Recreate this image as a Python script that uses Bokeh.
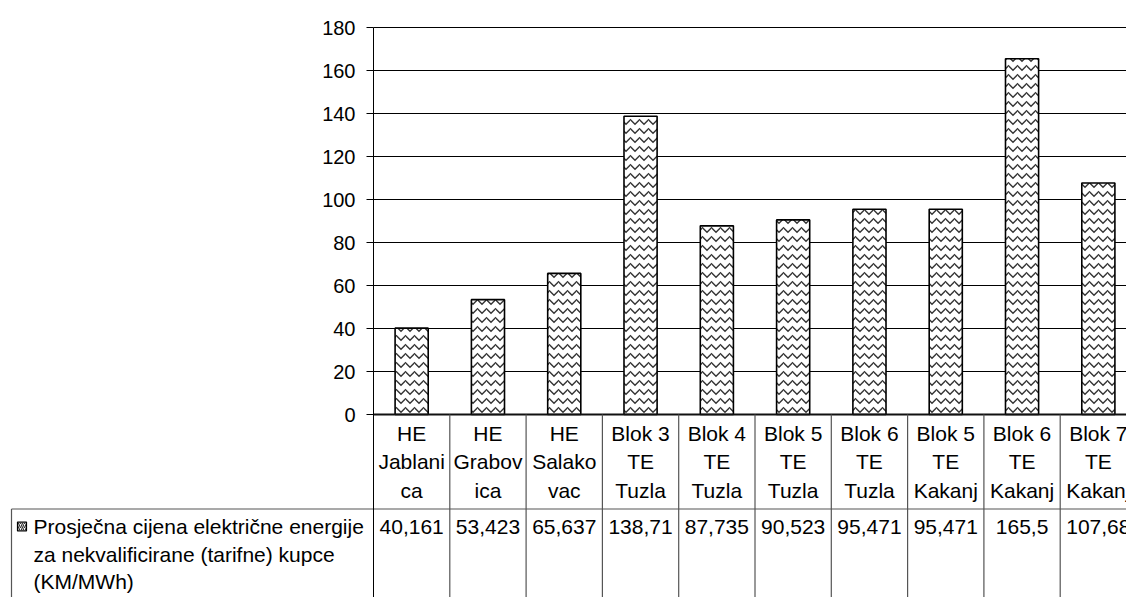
from bokeh.plotting import figure
from bokeh.models import Range1d, FixedTicker
from bokeh.core.properties import value
from bokeh.embed import file_html
from bokeh.resources import INLINE

# ---------------- data ----------------
categories = ["HE Jablanica", "HE Grabovica", "HE Salakovac", "Blok 3 TE Tuzla",
              "Blok 4 TE Tuzla", "Blok 5 TE Tuzla", "Blok 6 TE Tuzla",
              "Blok 5 TE Kakanj", "Blok 6 TE Kakanj", "Blok 7 TE Kakanj"]
label_line1 = ["HE", "HE", "HE", "Blok 3", "Blok 4", "Blok 5", "Blok 6", "Blok 5", "Blok 6", "Blok 7"]
label_line2 = ["Jablani", "Grabov", "Salako", "TE", "TE", "TE", "TE", "TE", "TE", "TE"]
label_line3 = ["ca", "ica", "vac", "Tuzla", "Tuzla", "Tuzla", "Tuzla", "Kakanj", "Kakanj", "Kakanj"]
values = [40.161, 53.423, 65.637, 138.71, 87.735, 90.523, 95.471, 95.471, 165.5, 107.68]
value_labels = ["40,161", "53,423", "65,637", "138,71", "87,735", "90,523",
                "95,471", "95,471", "165,5", "107,68"]
series_name_lines = ["Prosječna cijena električne energije",
                     "za nekvalificirane (tarifne) kupce",
                     "(KM/MWh)"]
y_ticks = [0, 20, 40, 60, 80, 100, 120, 140, 160, 180]

# ---------------- layout (page pixels) ----------------
FONT = value("Liberation Sans")
FS_AXIS = "20px"
FS = "21px"
W, H = 1126, 597
PAGE_LEFT, PAGE_TOP = 0, 0
AXIS_X = 373.0        # page x of the value axis
CAT_PX = 76.3         # width of one category
ZERO_Y = 414.0        # page y of value 0
UNIT_PX = 2.15        # pixels per value unit


def dx(page_x):
    return (page_x - AXIS_X) / CAT_PX


def dy(page_y):
    return (ZERO_Y - page_y) / UNIT_PX


x_start, x_end = dx(PAGE_LEFT), dx(PAGE_LEFT + W)
y_start, y_end = dy(PAGE_TOP + H), dy(PAGE_TOP)
n = len(categories)
xc = [i + 0.5 for i in range(n)]

p = figure(width=W, height=H, output_backend="svg", toolbar_location=None,
           x_range=Range1d(x_start, x_end), y_range=Range1d(y_start, y_end),
           min_border_left=0, min_border_right=0, min_border_top=0, min_border_bottom=0)
p.outline_line_color = None
p.background_fill_color = "white"
p.border_fill_color = "white"
p.xaxis.visible = False
p.xgrid.visible = False

# value axis, fixed at x = 0 (start of the categories)
yax = p.yaxis[0]
yax.fixed_location = 0
yax.ticker = FixedTicker(ticks=y_ticks)
yax.bounds = (y_start, max(y_ticks))
yax.major_tick_out = 7
yax.major_tick_in = 0
yax.minor_tick_line_color = None
yax.major_label_standoff = 11
yax.major_label_text_font = "Liberation Sans"
yax.major_label_text_font_size = FS_AXIS
yax.major_label_text_color = "black"
yax.axis_line_color = "black"
yax.major_tick_line_color = "black"

# gridlines only across the category area
grid_ok = True
try:
    p.ygrid.cross_bounds = (0, x_end)
    p.ygrid.ticker = FixedTicker(ticks=y_ticks)
    p.ygrid.grid_line_color = "black"
    p.ygrid.grid_line_width = 1
    p.ygrid.grid_line_alpha = 1.0
except Exception:
    grid_ok = False
if not grid_ok:
    p.ygrid.visible = False
    p.segment(x0=[0] * len(y_ticks), x1=[x_end] * len(y_ticks), y0=y_ticks, y1=y_ticks,
              line_color="black", line_width=1)

# bars
p.vbar(x=xc, top=values, bottom=0, width=0.434, fill_color="white",
       line_color="black", line_width=1.6,
       hatch_pattern="horizontal_wave", hatch_color="#333333", hatch_scale=9, hatch_weight=1.4)

# category axis baseline
p.segment(x0=[0], x1=[x_end], y0=[0], y1=[0], line_color="#111111", line_width=2.2)

# ---------------- data table ----------------
TABLE_LINE = "#555555"
row_y = dy(508.5)
p.segment(x0=list(range(1, n + 1)), x1=list(range(1, n + 1)),
          y0=[0] * n, y1=[y_start] * n, line_color=TABLE_LINE, line_width=1.2)
p.segment(x0=[dx(11)], x1=[x_end], y0=[row_y], y1=[row_y], line_color=TABLE_LINE, line_width=1.2)
p.segment(x0=[dx(11)], x1=[dx(11)], y0=[row_y], y1=[y_start], line_color=TABLE_LINE, line_width=1.2)

# text positions below are the visual centres of the lines (page px)
for lines, cy in ((label_line1, 432.5), (label_line2, 461), (label_line3, 489.5)):
    p.text(x=xc, y=[dy(cy)] * n, text=lines, text_font=FONT, text_font_size=FS,
           text_align="center", text_baseline="alphabetic", text_color="black")

p.text(x=xc, y=[dy(526)] * n, text=value_labels, text_font=FONT, text_font_size=FS,
       text_align="center", text_baseline="alphabetic", text_color="black")

# legend key and series name
p.rect(x=[dx(21.5)], y=[dy(526)], width=9, height=9, width_units="screen", height_units="screen",
       fill_color="white", line_color="black", line_width=1.2,
       hatch_pattern="right_diagonal_line", hatch_color="#333333", hatch_scale=4, hatch_weight=1.2)
for k, line in enumerate(series_name_lines):
    p.text(x=[dx(33)], y=[dy(526 + 27.5 * k)], text=[line], text_font=FONT, text_font_size=FS,
           text_align="left", text_baseline="alphabetic", text_color="black")

open("out.html", "w").write(file_html(p, INLINE))
